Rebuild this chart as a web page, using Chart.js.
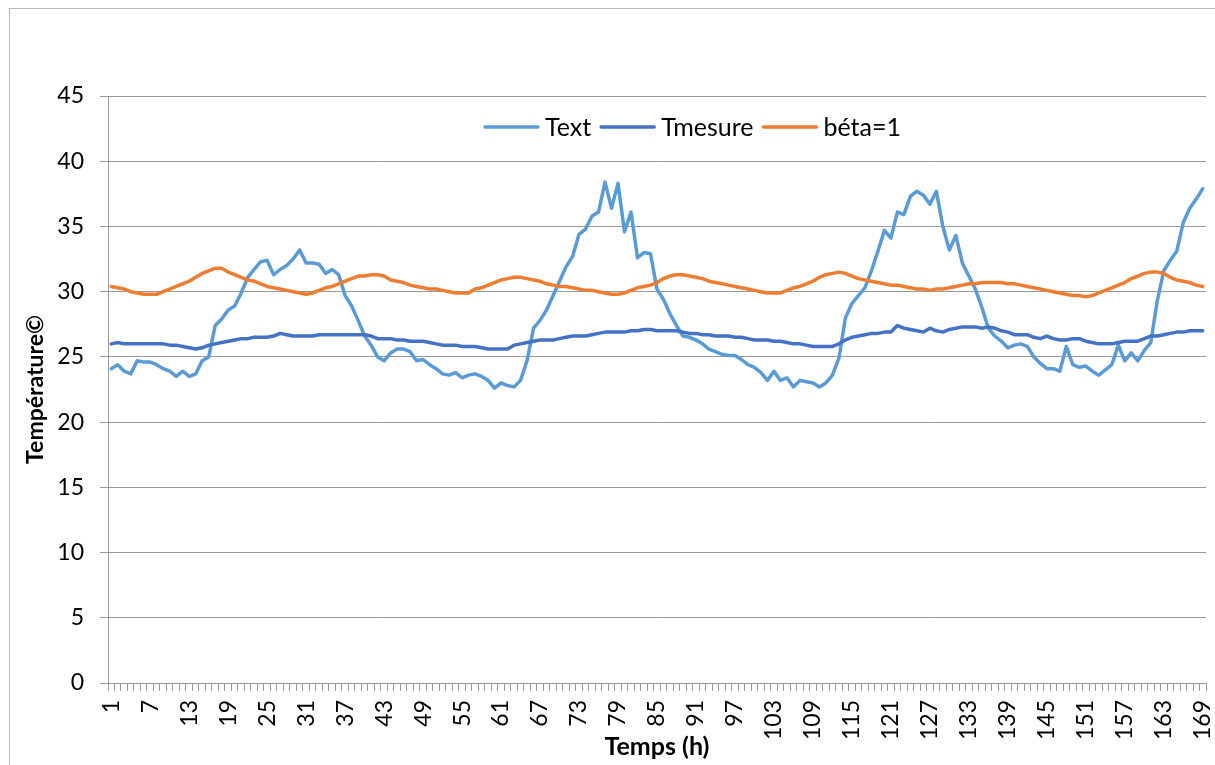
<!DOCTYPE html>
<html>
<head>
<meta charset="utf-8">
<script src="https://cdn.jsdelivr.net/npm/chart.js@4.4.1/dist/chart.umd.min.js"></script>
<style>
  html, body { margin: 0; padding: 0; background: #fff; }
  #wrap { width: 1215px; height: 765px; position: relative; }
</style>
</head>
<body>
<div id="wrap"><canvas id="c" width="1215" height="765"></canvas></div>
<script>
// ---- Data ----
const HOURS = Array.from({length: 169}, (_, i) => String(i + 1));
const TICK_EVERY = 6;
const Y_MIN = 0, Y_MAX = 45, Y_STEP = 5;

const SERIES_NAMES = ['Text', 'Tmesure', 'béta=1'];

const TEXT = [
  24.1, 24.4, 23.9, 23.7, 24.7, 24.6, 24.6, 24.4, 24.1, 23.9,
  23.5, 23.9, 23.5, 23.7, 24.7, 25.0, 27.4, 27.9, 28.6, 28.9,
  29.9, 31.1, 31.7, 32.3, 32.4, 31.3, 31.7, 32.0, 32.5, 33.2,
  32.2, 32.2, 32.1, 31.4, 31.7, 31.3, 29.7, 28.9, 27.8, 26.6,
  25.9, 25.0, 24.7, 25.3, 25.6, 25.6, 25.4, 24.7, 24.8, 24.4,
  24.1, 23.7, 23.6, 23.8, 23.4, 23.6, 23.7, 23.5, 23.2, 22.6,
  23.0, 22.8, 22.7, 23.2, 24.7, 27.2, 27.8, 28.6, 29.7, 30.8,
  31.9, 32.7, 34.4, 34.8, 35.8, 36.1, 38.4, 36.4, 38.3, 34.6,
  36.1, 32.6, 33.0, 32.9, 30.2, 29.4, 28.3, 27.4, 26.6, 26.5,
  26.3, 26.0, 25.6, 25.4, 25.2, 25.1, 25.1, 24.8, 24.4, 24.2,
  23.8, 23.2, 23.9, 23.2, 23.4, 22.7, 23.2, 23.1, 23.0, 22.7,
  23.0, 23.6, 24.9, 28.0, 29.1, 29.7, 30.3, 31.6, 33.1, 34.7,
  34.1, 36.1, 35.9, 37.3, 37.7, 37.4, 36.7, 37.7, 35.0, 33.2,
  34.3, 32.2, 31.2, 30.2, 28.8, 27.2, 26.6, 26.2, 25.7, 25.9,
  26.0, 25.8, 25.0, 24.5, 24.1, 24.1, 23.9, 25.8, 24.4, 24.2,
  24.3, 23.9, 23.6, 24.0, 24.4, 25.9, 24.7, 25.3, 24.7, 25.5,
  26.1, 29.3, 31.6, 32.4, 33.1, 35.3, 36.4, 37.1, 37.9
];

const TMESURE = [
  26.0, 26.1, 26.0, 26.0, 26.0, 26.0, 26.0, 26.0, 26.0, 25.9,
  25.9, 25.8, 25.7, 25.6, 25.7, 25.9, 26.0, 26.1, 26.2, 26.3,
  26.4, 26.4, 26.5, 26.5, 26.5, 26.6, 26.8, 26.7, 26.6, 26.6,
  26.6, 26.6, 26.7, 26.7, 26.7, 26.7, 26.7, 26.7, 26.7, 26.7,
  26.6, 26.4, 26.4, 26.4, 26.3, 26.3, 26.2, 26.2, 26.2, 26.1,
  26.0, 25.9, 25.9, 25.9, 25.8, 25.8, 25.8, 25.7, 25.6, 25.6,
  25.6, 25.6, 25.9, 26.0, 26.1, 26.2, 26.3, 26.3, 26.3, 26.4,
  26.5, 26.6, 26.6, 26.6, 26.7, 26.8, 26.9, 26.9, 26.9, 26.9,
  27.0, 27.0, 27.1, 27.1, 27.0, 27.0, 27.0, 27.0, 26.9, 26.8,
  26.8, 26.7, 26.7, 26.6, 26.6, 26.6, 26.5, 26.5, 26.4, 26.3,
  26.3, 26.3, 26.2, 26.2, 26.1, 26.0, 26.0, 25.9, 25.8, 25.8,
  25.8, 25.8, 26.0, 26.3, 26.5, 26.6, 26.7, 26.8, 26.8, 26.9,
  26.9, 27.4, 27.2, 27.1, 27.0, 26.9, 27.2, 27.0, 26.9, 27.1,
  27.2, 27.3, 27.3, 27.3, 27.2, 27.3, 27.2, 27.0, 26.9, 26.7,
  26.7, 26.7, 26.5, 26.4, 26.6, 26.4, 26.3, 26.3, 26.4, 26.4,
  26.2, 26.1, 26.0, 26.0, 26.0, 26.1, 26.2, 26.2, 26.2, 26.4,
  26.6, 26.6, 26.7, 26.8, 26.9, 26.9, 27.0, 27.0, 27.0
];

const BETA = [
  30.4, 30.3, 30.2, 30.0, 29.9, 29.8, 29.8, 29.8, 30.0, 30.2,
  30.4, 30.6, 30.8, 31.1, 31.4, 31.6, 31.8, 31.8, 31.5, 31.3,
  31.1, 30.9, 30.8, 30.6, 30.4, 30.3, 30.2, 30.1, 30.0, 29.9,
  29.8, 29.9, 30.1, 30.3, 30.4, 30.6, 30.8, 31.0, 31.2, 31.2,
  31.3, 31.3, 31.2, 30.9, 30.8, 30.7, 30.5, 30.4, 30.3, 30.2,
  30.2, 30.1, 30.0, 29.9, 29.9, 29.9, 30.2, 30.3, 30.5, 30.7,
  30.9, 31.0, 31.1, 31.1, 31.0, 30.9, 30.8, 30.6, 30.5, 30.4,
  30.4, 30.3, 30.2, 30.1, 30.1, 30.0, 29.9, 29.8, 29.8, 29.9,
  30.1, 30.3, 30.4, 30.5, 30.7, 31.0, 31.2, 31.3, 31.3, 31.2,
  31.1, 31.0, 30.8, 30.7, 30.6, 30.5, 30.4, 30.3, 30.2, 30.1,
  30.0, 29.9, 29.9, 29.9, 30.1, 30.3, 30.4, 30.6, 30.8, 31.1,
  31.3, 31.4, 31.5, 31.4, 31.2, 31.0, 30.9, 30.8, 30.7, 30.6,
  30.5, 30.5, 30.4, 30.3, 30.2, 30.2, 30.1, 30.2, 30.2, 30.3,
  30.4, 30.5, 30.6, 30.6, 30.7, 30.7, 30.7, 30.7, 30.6, 30.6,
  30.5, 30.4, 30.3, 30.2, 30.1, 30.0, 29.9, 29.8, 29.7, 29.7,
  29.6, 29.7, 29.9, 30.1, 30.3, 30.5, 30.7, 31.0, 31.2, 31.4,
  31.5, 31.5, 31.4, 31.1, 30.9, 30.8, 30.7, 30.5, 30.4
];

// ---- Styles ----
const COLORS = ['#5B9BD5', '#4472C4', '#ED7D31'];
const GRID = '#9a9a9a';
const FONT_FAMILY = 'Lato, "Open Sans", sans-serif';
const TICK_FONT = { family: FONT_FAMILY, size: 23 };
const Y_TITLE_FONT = { family: FONT_FAMILY, size: 23, weight: 'bold' };
const X_TITLE_FONT = { family: FONT_FAMILY, size: 25, weight: 'bold' };
const LEGEND_FONT_SIZE = 25;

Chart.defaults.color = '#000';

const frameAndBg = {
  id: 'frameAndBg',
  beforeDraw(chart) {
    const ctx = chart.ctx;
    ctx.save();
    ctx.fillStyle = '#fff';
    ctx.fillRect(0, 0, chart.width, chart.height);
    ctx.strokeStyle = '#b8b8b8';
    ctx.lineWidth = 1;
    ctx.strokeRect(9.5, 8.5, chart.width + 20, chart.height + 20);
    ctx.restore();
  }
};

const insideLegend = {
  id: 'insideLegend',
  afterDraw(chart) {
    const ctx = chart.ctx;
    ctx.save();
    ctx.font = LEGEND_FONT_SIZE + 'px ' + FONT_FAMILY;
    ctx.textBaseline = 'middle';
    let x = 485;
    const y = 127;
    chart.data.datasets.forEach(ds => {
      ctx.strokeStyle = ds.borderColor;
      ctx.lineWidth = 3.5;
      ctx.lineCap = 'round';
      ctx.beginPath();
      ctx.moveTo(x, y);
      ctx.lineTo(x + 53, y);
      ctx.stroke();
      ctx.fillStyle = '#000';
      ctx.fillText(ds.label, x + 60, y + 1);
      x += 60 + ctx.measureText(ds.label).width + 10;
    });
    ctx.restore();
  }
};

const SERIES = [TEXT, TMESURE, BETA];

new Chart(document.getElementById('c'), {
  type: 'line',
  data: {
    labels: HOURS,
    datasets: SERIES.map((d, i) => ({
      label: SERIES_NAMES[i],
      data: d,
      borderColor: COLORS[i],
      backgroundColor: COLORS[i],
      borderWidth: 3.5,
      pointRadius: 0,
      tension: 0,
      borderJoinStyle: 'round',
      borderCapStyle: 'round',
      order: 3 - i
    }))
  },
  options: {
    responsive: false,
    animation: false,
    devicePixelRatio: 1,
    layout: { padding: { top: 96, right: 9, left: 0, bottom: 0 } },
    plugins: { legend: { display: false }, tooltip: { enabled: false } },
    scales: {
      x: {
        type: 'category',
        offset: true,
        grid: { offset: true, drawOnChartArea: false, drawTicks: true, tickLength: 8, color: GRID },
        border: { display: true, color: GRID },
        ticks: {
          autoSkip: false, minRotation: 90, maxRotation: 90, padding: 9, font: TICK_FONT,
          callback: (v, i) => (i % TICK_EVERY === 0 ? HOURS[i] : '')
        },
        title: { display: true, text: 'Temps (h)', font: X_TITLE_FONT, padding: { top: 0, bottom: 3 } },
        afterFit: s => { s.height = 82; s.paddingLeft = 0; s.paddingRight = 0; }
      },
      y: {
        min: Y_MIN, max: Y_MAX,
        ticks: { stepSize: Y_STEP, padding: 16, font: TICK_FONT },
        grid: { color: GRID, tickLength: 8 },
        border: { display: true, color: GRID },
        title: { display: true, text: 'Température©', font: Y_TITLE_FONT, padding: { top: 22, bottom: 0 } },
        afterFit: s => { s.width = 108; s.paddingTop = 0; s.paddingBottom = 0; }
      }
    }
  },
  plugins: [frameAndBg, insideLegend]
});
</script>
</body>
</html>
